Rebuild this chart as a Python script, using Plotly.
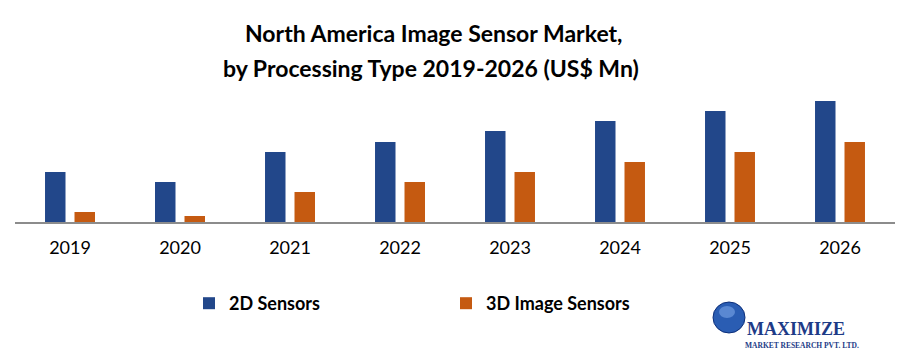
import plotly.graph_objects as go

years = ["2019", "2020", "2021", "2022", "2023", "2024", "2025", "2026"]
sensors_2d = [50, 40, 70, 80, 91, 101, 111, 121]
sensors_3d = [10, 6, 30, 40, 50, 60, 70, 80]

W, H = 897, 351
ML, MR, MT, MB = 15, 2, 90, 129
PW, PH = W - ML - MR, H - MT - MB


def px_x(x):
    return (x - ML) / PW


def px_y(y):
    return (H - MB - y) / PH


fig = go.Figure()
fig.add_trace(go.Bar(x=years, y=sensors_2d, name="2D Sensors",
                     marker=dict(color="#22478a", line=dict(width=0))))
fig.add_trace(go.Bar(x=years, y=sensors_3d, name="3D Image Sensors",
                     marker=dict(color="#c55a11", line=dict(width=0))))

title_font = dict(family="Lato", size=23, color="#000000", weight="bold")
fig.add_annotation(text="<b>North America Image Sensor Market,</b>", xref="paper", yref="paper",
                   x=px_x(433), y=px_y(33), xanchor="center", yanchor="middle",
                   showarrow=False, font=title_font)
fig.add_annotation(text="<b>by Processing Type 2019-2026 (US$ Mn)</b>", xref="paper", yref="paper",
                   x=px_x(431), y=px_y(68), xanchor="center", yanchor="middle",
                   showarrow=False, font=title_font)

# logo
fig.add_shape(type="circle", xref="paper", yref="paper",
              x0=px_x(713), x1=px_x(745), y0=px_y(333), y1=px_y(302),
              fillcolor="#2a5db3", line=dict(color="#0d2f7a", width=1), layer="above")
fig.add_shape(type="circle", xref="paper", yref="paper",
              x0=px_x(719), x1=px_x(735), y0=px_y(318), y1=px_y(306),
              fillcolor="#6f9be0", line=dict(width=0), layer="above", opacity=0.7)
fig.add_annotation(text="<b>MAXIMIZE</b>", xref="paper", yref="paper",
                   x=px_x(745), y=px_y(340.5), xanchor="left", yanchor="bottom",
                   showarrow=False, font=dict(family="Liberation Serif", size=18, color="#1d3b87"))
fig.add_annotation(text="<b>MARKET RESEARCH PVT. LTD.</b>", xref="paper", yref="paper",
                   x=px_x(743), y=px_y(345.8), xanchor="left", yanchor="middle",
                   showarrow=False, font=dict(family="Liberation Serif", size=7.5, color="#1d3b87"))

fig.update_layout(
    width=W, height=H,
    margin=dict(l=ML, r=MR, t=MT, b=MB, pad=0),
    paper_bgcolor="white", plot_bgcolor="white",
    barmode="group", bargap=0.464, bargroupgap=0.305,
    showlegend=True,
    legend=dict(orientation="h", x=px_x(189), y=px_y(303.5), xanchor="left", yanchor="middle",
                entrywidth=212, entrywidthmode="pixels",
                font=dict(family="Lato", size=18, color="#000000", weight="bold"),
                bgcolor="rgba(0,0,0,0)", itemclick=False),
    xaxis=dict(showline=True, linecolor="#8c8c8c", linewidth=2, showgrid=False, ticks="",
               ticklabelstandoff=8,
               tickfont=dict(family="Lato", size=18, color="#000000"), fixedrange=True),
    yaxis=dict(visible=False, range=[0, PH], fixedrange=True),
)

fig.write_html("out.html")
